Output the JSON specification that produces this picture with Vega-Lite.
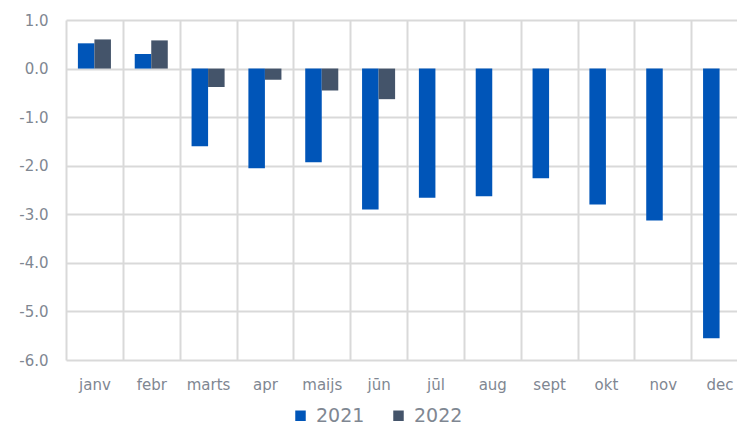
{
  "$schema": "https://vega.github.io/schema/vega-lite/v6.json",
  "width": 682,
  "height": 340,
  "autosize": {"type": "none"},
  "padding": {"left": 66, "top": 20, "right": -11, "bottom": 68},
  "background": "white",
  "data": {"values": [
    {"month": "janv", "year": "2021", "value": 0.52},
    {"month": "janv", "year": "2022", "value": 0.60},
    {"month": "febr", "year": "2021", "value": 0.30},
    {"month": "febr", "year": "2022", "value": 0.58},
    {"month": "marts", "year": "2021", "value": -1.60},
    {"month": "marts", "year": "2022", "value": -0.38},
    {"month": "apr", "year": "2021", "value": -2.05},
    {"month": "apr", "year": "2022", "value": -0.23},
    {"month": "maijs", "year": "2021", "value": -1.93},
    {"month": "maijs", "year": "2022", "value": -0.45},
    {"month": "jūn", "year": "2021", "value": -2.90},
    {"month": "jūn", "year": "2022", "value": -0.63},
    {"month": "jūl", "year": "2021", "value": -2.66},
    {"month": "aug", "year": "2021", "value": -2.63},
    {"month": "sept", "year": "2021", "value": -2.26},
    {"month": "okt", "year": "2021", "value": -2.80},
    {"month": "nov", "year": "2021", "value": -3.13},
    {"month": "dec", "year": "2021", "value": -5.55}
  ]},
  "mark": {"type": "bar"},
  "encoding": {
    "x": {
      "field": "month", "type": "nominal",
      "sort": ["janv", "febr", "marts", "apr", "maijs", "jūn", "jūl", "aug", "sept", "okt", "nov", "dec"],
      "scale": {"paddingInner": 0, "paddingOuter": 0},
      "axis": {
        "title": null, "labelAngle": 0, "domain": false, "ticks": false,
        "tickBand": "extent", "grid": true, "gridColor": "#d9d9d9", "gridWidth": 2,
        "labelPadding": 17, "labelFontSize": 15, "labelFont": "DejaVu Sans",
        "labelColor": "#7f8792"
      }
    },
    "xOffset": {
      "field": "year", "type": "nominal",
      "scale": {"paddingInner": 0, "paddingOuter": 0.72}
    },
    "y": {
      "field": "value", "type": "quantitative",
      "scale": {"domain": [-6, 1], "nice": false, "zero": false},
      "axis": {
        "title": null, "values": [-6, -5, -4, -3, -2, -1, 0, 1],
        "labelExpr": "replace(format(datum.value, '.1f'), '−', '-')",
        "domain": false, "ticks": false, "labelPadding": 18,
        "gridColor": "#d9d9d9", "gridWidth": 2,
        "labelFontSize": 15, "labelFont": "DejaVu Sans", "labelColor": "#7f8792"
      }
    },
    "color": {
      "field": "year", "type": "nominal",
      "scale": {"domain": ["2021", "2022"], "range": ["#0055b8", "#44546a"]},
      "legend": {
        "title": null, "orient": "none", "direction": "horizontal",
        "legendX": 225, "legendY": 386,
        "symbolType": "square", "symbolSize": 110, "labelFontSize": 19,
        "labelFont": "DejaVu Sans", "labelColor": "#7f8792", "columnPadding": 24,
        "labelOffset": 6
      }
    }
  },
  "config": {"view": {"stroke": null}}
}
